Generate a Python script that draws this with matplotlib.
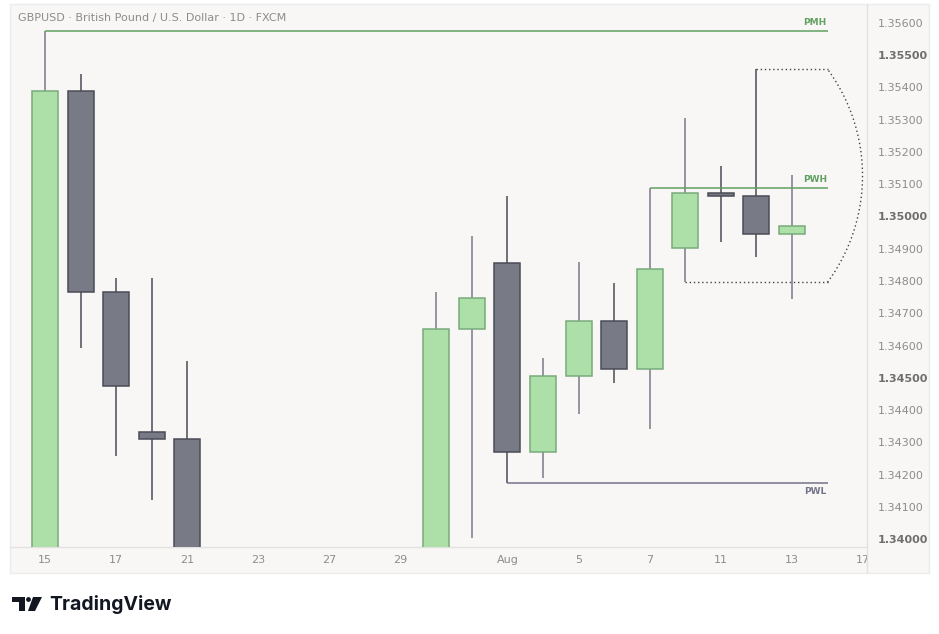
import numpy as np
import matplotlib
matplotlib.use("Agg")
import matplotlib.pyplot as plt
from matplotlib.patches import Rectangle, Polygon, Circle
from matplotlib.lines import Line2D

# ---------------- data ----------------
title = "GBPUSD · British Pound / U.S. Dollar · 1D · FXCM"
opens  = [1.3380, 1.35388, 1.34765, 1.34331, 1.34310, 1.3385, 1.3350, 1.3365, 1.3330, 1.3355, 1.3320,
          1.3340, 1.34650, 1.34855, 1.34270, 1.34505, 1.34675, 1.34527, 1.34901, 1.35072, 1.35062, 1.34945]
highs  = [1.35575, 1.35441, 1.34809, 1.34809, 1.34552, 1.3390, 1.3380, 1.3390, 1.3370, 1.3375, 1.3350,
          1.34766, 1.34939, 1.35063, 1.34561, 1.34859, 1.34794, 1.35087, 1.35305, 1.35156, 1.35456, 1.35128]
lows   = [1.3370, 1.34593, 1.34259, 1.34123, 1.3370, 1.3340, 1.3330, 1.3320, 1.3310, 1.3300, 1.3290,
          1.3325, 1.34003, 1.34174, 1.34191, 1.34389, 1.34485, 1.34341, 1.34796, 1.34922, 1.34875, 1.34743]
closes = [1.35388, 1.34765, 1.34476, 1.34310, 1.3385, 1.3350, 1.3365, 1.3330, 1.3355, 1.3320, 1.3340,
          1.34650, 1.34747, 1.34270, 1.34505, 1.34675, 1.34527, 1.34836, 1.35072, 1.35062, 1.34945, 1.34969]
date_tick_idx = [0, 2, 4, 6, 8, 10, 13, 15, 17, 19, 21, 23]
date_tick_labels = ["15", "17", "21", "23", "27", "29", "Aug", "5", "7", "11", "13", "17"]
price_ticks = [1.340, 1.341, 1.342, 1.343, 1.344, 1.345, 1.346, 1.347, 1.348,
               1.349, 1.350, 1.351, 1.352, 1.353, 1.354, 1.355, 1.356]
# key levels: (label, value, start index)
levels = [("PMH", highs[0], 0), ("PWH", highs[17], 17), ("PWL", lows[13], 13)]
level_end = 22
box_left, box_top_idx = 18, 20   # dotted range drawing anchors (low of bar 18, high of bar 20)

# ---------------- style ----------------
W, H = 939, 634
BG = "#F8F7F5"
UP_FILL, UP_EDGE, UP_WICK = "#ACE0A8", "#77AB7B", "#7A7A8A"
DN_FILL, DN_EDGE, DN_WICK = "#787B86", "#4A4C56", "#4A4C56"
GREEN_LVL, GREY_LVL = "#62A062", "#73738A"
TXT = "#8C8C8C"

def fx(px):
    return px / W

def fy(py):
    return 1 - py / H

fig = plt.figure(figsize=(W / 100, H / 100), dpi=100, facecolor="white")

# outer panel (behind axes)
bgax = fig.add_axes([0, 0, 1, 1], zorder=-5)
bgax.set_axis_off()
bgax.set_xlim(0, W)
bgax.set_ylim(H, 0)
bgax.add_patch(Rectangle((10, 4), 919, 569, facecolor=BG, edgecolor="#ECECEC", linewidth=1))
bgax.plot([867, 867], [4, 573], color="#E2E2E2", linewidth=1)

# TradingView logo
logo_col = "#131722"
T_shape = [(12, 597), (25, 597), (25, 611), (19, 611), (19, 602), (12, 602)]
bgax.add_patch(Polygon(T_shape, closed=True, facecolor=logo_col, edgecolor="none"))
slash = [(33, 597), (42, 597), (35, 611), (28, 611)]
bgax.add_patch(Polygon(slash, closed=True, facecolor=logo_col, edgecolor="none"))
bgax.add_patch(Circle((28.5, 599.5), 2.4, facecolor=logo_col, edgecolor="none"))
bgax.text(49, 604, "TradingView", fontsize=14, fontweight="bold", color=logo_col,
          family=["Inter", "DejaVu Sans"], ha="left", va="center")
bgax.text(18, 18, title, fontsize=8, color=TXT, ha="left", va="center")

ax_l, ax_r, ax_t, ax_b = 10, 867, 4, 546.7
ax = fig.add_axes([fx(ax_l), fy(ax_b), fx(ax_r) - fx(ax_l), fy(ax_t) - fy(ax_b)], facecolor=BG)
ax.patch.set_alpha(0)
ax.set_xlim(-0.984, 23.11)
ax.set_ylim(1.33977, 1.35658)

for s in ["top", "left", "right"]:
    ax.spines[s].set_visible(False)
ax.spines["bottom"].set_color("#E2E2E2")
ax.spines["bottom"].set_linewidth(1)

# candles
idx = np.arange(len(opens))
for i, o, h, l, c in zip(idx, opens, highs, lows, closes):
    up = c >= o
    wick = UP_WICK if up else DN_WICK
    ax.vlines(i, l, h, color=wick, linewidth=1.1, zorder=2)
    ax.bar(i, abs(c - o), bottom=min(o, c), width=0.73,
           color=UP_FILL if up else DN_FILL, edgecolor=UP_EDGE if up else DN_EDGE,
           linewidth=1.1, zorder=3)

# level lines
for name, val, start in levels:
    col = GREY_LVL if name == "PWL" else GREEN_LVL
    ax.hlines(val, start, level_end, color=col, linewidth=1.1, zorder=4)
    if name == "PWL":
        ax.annotate(name, (level_end - 0.35, val), xytext=(0, -3), textcoords="offset points",
                    ha="center", va="top", fontsize=6.5, fontweight="bold", color=col)
    else:
        ax.annotate(name, (level_end - 0.35, val), xytext=(0, 3), textcoords="offset points",
                    ha="center", va="bottom", fontsize=6.5, fontweight="bold", color=col)

# dotted range drawing with arc
box_hi = highs[box_top_idx]
box_lo = lows[box_left]
ax.hlines(box_hi, box_top_idx, level_end, color="#444444", linewidth=1,
          linestyles=(0, (1, 2)), zorder=4)
ax.hlines(box_lo, box_left, level_end, color="#444444", linewidth=1,
          linestyles=(0, (1, 2)), zorder=4)
xr = ax.get_xlim()
yr = ax.get_ylim()
ppx = (ax_r - ax_l) / (xr[1] - xr[0])
ppy = (ax_b - ax_t) / (yr[1] - yr[0])
chord = (box_hi - box_lo) * ppy
sag = 35.0
R = (chord ** 2 / 4 + sag ** 2) / (2 * sag)
theta = np.arcsin((chord / 2) / R)
t = np.linspace(-theta, theta, 100)
xs_px = (sag - R) + R * np.cos(t)
ys_px = R * np.sin(t)
ax.plot(level_end + xs_px / ppx, (box_hi + box_lo) / 2 + ys_px / ppy, color="#444444",
        linewidth=1, linestyle=(0, (1, 2)), zorder=4, clip_on=False)

# ticks
ax.yaxis.tick_right()
ax.set_yticks(price_ticks)
ax.set_yticklabels([f"{p:.5f}" for p in price_ticks])
ax.tick_params(axis="y", length=0, pad=8, labelsize=8, labelcolor=TXT)
for p, lab in zip(price_ticks, ax.get_yticklabels()):
    if round(p * 1000) % 5 == 0:
        lab.set_color("#6E6E6E")
        lab.set_fontweight("bold")
ax.set_xticks(date_tick_idx)
ax.set_xticklabels(date_tick_labels)
ax.tick_params(axis="x", length=0, pad=6, labelsize=8, labelcolor=TXT)
clip_rect = Rectangle((fx(ax_l), 0), fx(ax_r) - fx(ax_l), 1, transform=fig.transFigure)
for lab in ax.get_xticklabels():
    lab.set_clip_path(clip_rect)

fig.savefig("out.png", dpi=100, facecolor="white")
